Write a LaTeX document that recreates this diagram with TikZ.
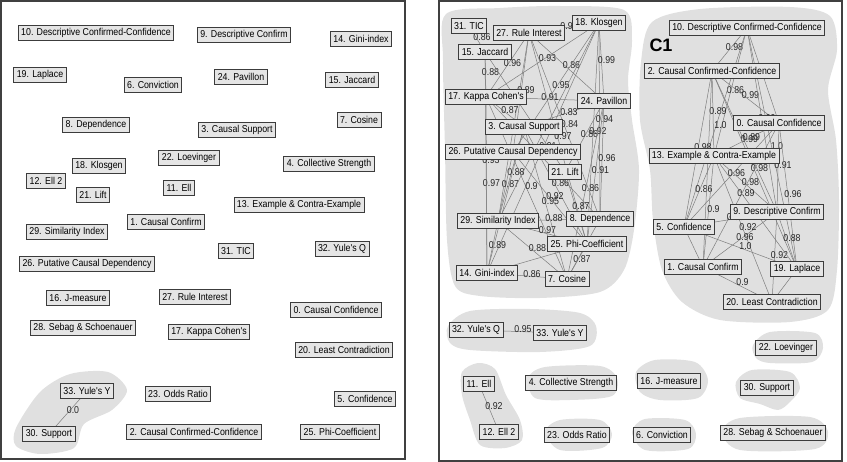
\documentclass[tikz,border=0pt]{standalone}
\usepackage{fontspec}
\setmainfont{Liberation Sans}
\newfontfamily\boxfont[FakeStretch=0.88]{Liberation Sans}
\usepackage{tikz}
\definecolor{box_grey}{RGB}{229,229,229}
\definecolor{blob_grey}{RGB}{224,224,224}
\definecolor{edge_grey}{RGB}{125,125,125}
\definecolor{line_grey}{RGB}{60,60,60}
\tikzstyle{mn}=[rectangle,fill=box_grey,draw=line_grey,line width=0.9pt,
  inner xsep=3pt,inner ysep=0pt,minimum height=15.5pt,font=\boxfont\fontsize{10}{10}\selectfont]
\tikzstyle{ed}=[draw=edge_grey,line width=0.5pt]
\tikzstyle{el}=[inner sep=0pt,xshift=5pt,yshift=2pt,text=black!85,
  font=\boxfont\fontsize{10}{10}\selectfont]
\tikzstyle{bl}=[fill=blob_grey]
\tikzstyle{frm}=[draw=black!75,line width=1.2pt]
\pgfdeclarelayer{blobs}
\pgfdeclarelayer{edges}
\pgfsetlayers{blobs,edges,main}

\begin{document}
\begin{tikzpicture}[x=1pt,y=-1pt]
    \useasboundingbox (0,0) rectangle (847,462);
    % frames of the two panels
    \draw [style=frm] (1,1) rectangle (405,459);
    \draw [style=frm] (439,1) rectangle (842,461);

    % left panel
    \node [style=mn] (l10) at (96,33) {10. Descriptive Confirmed-Confidence};
    \node [style=mn] (l9) at (244,35) {9. Descriptive Confirm};
    \node [style=mn] (l14) at (361,39) {14. Gini-index};
    \node [style=mn] (l19) at (40,75) {19. Laplace};
    \node [style=mn] (l6) at (153,85) {6. Conviction};
    \node [style=mn] (l24) at (241,77) {24. Pavillon};
    \node [style=mn] (l15) at (352,80) {15. Jaccard};
    \node [style=mn] (l8) at (96,125) {8. Dependence};
    \node [style=mn] (l3) at (237,130) {3. Causal Support};
    \node [style=mn] (l7) at (359,120) {7. Cosine};
    \node [style=mn] (l22) at (189,158) {22. Loevinger};
    \node [style=mn] (l18) at (99,166) {18. Klosgen};
    \node [style=mn] (l4) at (329,164) {4. Collective Strength};
    \node [style=mn] (l12) at (46,181) {12. Ell 2};
    \node [style=mn] (l21) at (93,195) {21. Lift};
    \node [style=mn] (l11) at (179,188) {11. Ell};
    \node [style=mn] (l13) at (299,205) {13. Example \& Contra-Example};
    \node [style=mn] (l1) at (166,222) {1. Causal Confirm};
    \node [style=mn] (l29) at (67,232) {29. Similarity Index};
    \node [style=mn] (l31) at (236,251) {31. TIC};
    \node [style=mn] (l32) at (342,249) {32. Yule's Q};
    \node [style=mn] (l26) at (87,264) {26. Putative Causal Dependency};
    \node [style=mn] (l16) at (78,298) {16. J-measure};
    \node [style=mn] (l27) at (195,297) {27. Rule Interest};
    \node [style=mn] (l0) at (336,310) {0. Causal Confidence};
    \node [style=mn] (l28) at (83,328) {28. Sebag \& Schoenauer};
    \node [style=mn] (l17) at (209,332) {17. Kappa Cohen's};
    \node [style=mn] (l20) at (344,350) {20. Least Contradiction};
    \node [style=mn] (l33) at (87,391) {33. Yule's Y};
    \node [style=mn] (l23) at (178,394) {23. Odds Ratio};
    \node [style=mn] (l5) at (365,399) {5. Confidence};
    \node [style=mn] (l30) at (49,434) {30. Support};
    \node [style=mn] (l2) at (194,432) {2. Causal Confirmed-Confidence};
    \node [style=mn] (l25) at (340,432) {25. Phi-Coefficient};

    % right panel, first cluster
    \node [style=mn] (r31) at (469,26) {31. TIC};
    \node [style=mn] (r27) at (529,33) {27. Rule Interest};
    \node [style=mn] (r18) at (599,23) {18. Klosgen};
    \node [style=mn] (r15) at (485,52) {15. Jaccard};
    \node [style=mn] (r17) at (486,97) {17. Kappa Cohen's};
    \node [style=mn] (r24) at (604,101) {24. Pavillon};
    \node [style=mn] (r3) at (524,127) {3. Causal Support};
    \node [style=mn] (r26) at (513,152) {26. Putative Causal Dependency};
    \node [style=mn] (r21) at (565,172) {21. Lift};
    \node [style=mn] (r29) at (498,221) {29. Similarity Index};
    \node [style=mn] (r8) at (600,219) {8. Dependence};
    \node [style=mn] (r25) at (587,244) {25. Phi-Coefficient};
    \node [style=mn] (r14) at (487,273) {14. Gini-index};
    \node [style=mn] (r7) at (567,279) {7. Cosine};

    % right panel, cluster C1
    \node [font=\bfseries\fontsize{18}{18}\selectfont] (c1) at (661,45) {C1};
    \node [style=mn] (r10) at (747,28) {10. Descriptive Confirmed-Confidence};
    \node [style=mn] (r2) at (712,71) {2. Causal Confirmed-Confidence};
    \node [style=mn] (r0) at (779,123) {0. Causal Confidence};
    \node [style=mn] (r13) at (714,156) {13. Example \& Contra-Example};
    \node [style=mn] (r9) at (777,212) {9. Descriptive Confirm};
    \node [style=mn] (r5) at (684,227) {5. Confidence};
    \node [style=mn] (r1) at (703,267) {1. Causal Confirm};
    \node [style=mn] (r19) at (797,269) {19. Laplace};
    \node [style=mn] (r20) at (772,302) {20. Least Contradiction};

    % right panel, small groups
    \node [style=mn] (r32) at (476,330) {32. Yule's Q};
    \node [style=mn] (r33) at (560,333) {33. Yule's Y};
    \node [style=mn] (r22) at (786,348) {22. Loevinger};
    \node [style=mn] (r11) at (479,384) {11. Ell};
    \node [style=mn] (r4) at (571,383) {4. Collective Strength};
    \node [style=mn] (r16) at (669,381) {16. J-measure};
    \node [style=mn] (r30) at (767,388) {30. Support};
    \node [style=mn] (r12) at (499,432) {12. Ell 2};
    \node [style=mn] (r23) at (577,435) {23. Odds Ratio};
    \node [style=mn] (r6) at (662,435) {6. Conviction};
    \node [style=mn] (r28) at (773,433) {28. Sebag \& Schoenauer};

    \begin{pgfonlayer}{blobs}
    \fill [style=bl] plot [smooth cycle] coordinates {(16,428) (40,392) (70,374)
      (108,372) (127,390) (112,410) (84,424) (74,448) (40,454) (16,446)};
    \fill [style=bl] plot [smooth cycle] coordinates {(446,14) (500,8) (560,6)
      (624,10) (632,40) (628,80) (632,120) (639,170) (634,230) (624,270)
      (600,292) (540,298) (480,296) (455,286) (447,240) (445,150) (443,60)};
    \fill [style=bl] plot [smooth cycle] coordinates {(652,22) (700,9) (790,7)
      (830,16) (837,50) (828,90) (836,140) (839,200) (837,270) (828,310)
      (790,322) (720,320) (682,302) (662,270) (653,220) (650,170) (640,120)
      (641,62)};
    \fill [style=bl] plot [smooth cycle] coordinates {(448,326) (470,311)
      (530,309) (580,313) (596,326) (590,346) (540,352) (470,350) (450,343)};
    \fill [style=bl] plot [smooth cycle] coordinates {(462,372) (478,363)
      (495,369) (506,395) (520,420) (522,440) (505,448) (480,445) (470,420)
      (462,395)};
    \fill [style=bl] plot [smooth cycle] coordinates {(528,378) (545,367)
      (600,366) (617,378) (612,396) (570,400) (535,398)};
    \fill [style=bl] plot [smooth cycle] coordinates {(636,372) (655,360)
      (695,362) (708,380) (698,398) (660,400) (640,392)};
    \fill [style=bl] plot [smooth cycle] coordinates {(753,345) (770,332)
      (815,333) (823,348) (812,362) (770,363) (756,358)};
    \fill [style=bl] plot [smooth cycle] coordinates {(736,382) (752,370)
      (790,372) (800,388) (790,402) (778,410) (760,404) (740,398)};
    \fill [style=bl] plot [smooth cycle] coordinates {(545,432) (560,420)
      (600,420) (612,434) (602,448) (560,450)};
    \fill [style=bl] plot [smooth cycle] coordinates {(632,432) (645,419)
      (685,420) (696,434) (688,449) (645,450)};
    \fill [style=bl] plot [smooth cycle] coordinates {(722,432) (740,418)
      (810,417) (828,432) (815,449) (740,450)};
    \end{pgfonlayer}

    \begin{pgfonlayer}{edges}
    \draw [style=ed] (l33.center) to node [style=el] {0.0} (l30.center);
    \draw [style=ed] (r32.center) to node [style=el] {0.95} (r33.center);
    \draw [style=ed] (r11.center) to node [style=el] {0.92} (r12.center);
    % first cluster
    \draw [style=ed] (r31.center) to node [style=el] {0.86} (r15.center);
    \draw [style=ed] (r27.center) to node [style=el] {0.99} (r18.center);
    \draw [style=ed] (r27.center) to node [style=el] {0.96} (r17.center);
    \draw [style=ed] (r18.center) to node [style=el] {0.93} (r17.center);
    \draw [style=ed] (r27.center) to node [style=el] {0.86} (r24.center);
    \draw [style=ed] (r18.center) to node [style=el] {0.99} (r24.center);
    \draw [style=ed] (r15.center) to node [style=el] {0.88} (r17.center);
    \draw [style=ed] (r18.center) to node [style=el] {0.95} (r26.center);
    \draw [style=ed] (r27.center) to node [style=el] {0.89} (r26.center);
    \draw [style=ed] (r17.center) to node [style=el] {0.91} (r24.center);
    \draw [style=ed] (r17.center) to node [style=el] {0.87} (r3.center);
    \draw [style=ed] (r24.center) to node [style=el] {0.83} (r3.center);
    \draw [style=ed] (r27.center) to node [style=el] {0.84} (r8.center);
    \draw [style=ed] (r18.center) to node [style=el] {0.94} (r8.center);
    \draw [style=ed] (r27.center) to node [style=el] {0.97} (r25.center);
    \draw [style=ed] (r24.center) to node [style=el] {0.86} (r21.center);
    \draw [style=ed] (r18.center) to node [style=el] {0.92} (r25.center);
    \draw [style=ed] (r18.center) to node [style=el] {0.91} (r14.center);
    \draw [style=ed] (r24.center) to node [style=el] {0.96} (r8.center);
    \draw [style=ed] (r24.center) to node [style=el] {0.91} (r25.center);
    \draw [style=ed] (r3.center) to node [style=el] {0.88} (r29.center);
    \draw [style=ed] (r17.center) to node [style=el] {0.98} (r8.center);
    \draw [style=ed] (r17.center) to node [style=el] {0.97} (r14.center);
    \draw [style=ed] (r26.center) to node [style=el] {0.87} (r29.center);
    \draw [style=ed] (r17.center) to node [style=el] {0.9} (r7.center);
    \draw [style=ed] (r3.center) to node [style=el] {0.86} (r25.center);
    \draw [style=ed] (r3.center) to node [style=el] {0.95} (r7.center);
    \draw [style=ed] (r26.center) to node [style=el] {0.92} (r25.center);
    \draw [style=ed] (r24.center) to node [style=el] {0.86} (r7.center);
    \draw [style=ed] (r21.center) to node [style=el] {0.87} (r25.center);
    \draw [style=ed] (r29.center) to node [style=el] {0.88} (r8.center);
    \draw [style=ed] (r29.center) to node [style=el] {0.97} (r25.center);
    \draw [style=ed] (r29.center) to node [style=el] {0.89} (r14.center);
    \draw [style=ed] (r29.center) to node [style=el] {0.88} (r7.center);
    \draw [style=ed] (r25.center) to node [style=el] {0.87} (r7.center);
    \draw [style=ed] (r14.center) to node [style=el] {0.86} (r7.center);
    \draw [style=ed] (r15.center) to node [style=el] {0.93} (r14.center);
    \draw [style=ed] (r8.center) to (r7.center);
    \draw [style=ed] (r14.center) to (r25.center);
    \draw [style=ed] (r18.center) to (r29.center);
    \draw [style=ed] (r27.center) to (r29.center);
    \draw [style=ed] (r15.center) to (r21.center);
    \draw [style=ed] (r3.center) to (r14.center);
    % cluster C1
    \draw [style=ed] (r10.center) to node [style=el] {0.98} (r2.center);
    \draw [style=ed] (r10.center) to node [style=el] {0.96} (r0.center);
    \draw [style=ed] (r10.center) to node [style=el] {0.86} (r13.center);
    \draw [style=ed] (r2.center) to node [style=el] {0.99} (r0.center);
    \draw [style=ed] (r2.center) to node [style=el] {0.89} (r13.center);
    \draw [style=ed] (r10.center) to node [style=el] {1.0} (r5.center);
    \draw [style=ed] (r10.center) to node [style=el] {0.99} (r9.center);
    \draw [style=ed] (r2.center) to node [style=el] {0.98} (r5.center);
    \draw [style=ed] (r2.center) to node [style=el] {0.99} (r9.center);
    \draw [style=ed] (r13.center) to node [style=el] {0.89} (r0.center);
    \draw [style=ed] (r10.center) to node [style=el] {1.0} (r19.center);
    \draw [style=ed] (r2.center) to node [style=el] {0.98} (r19.center);
    \draw [style=ed] (r0.center) to node [style=el] {0.91} (r9.center);
    \draw [style=ed] (r0.center) to node [style=el] {0.96} (r5.center);
    \draw [style=ed] (r13.center) to node [style=el] {0.98} (r9.center);
    \draw [style=ed] (r13.center) to node [style=el] {0.86} (r5.center);
    \draw [style=ed] (r0.center) to node [style=el] {0.89} (r1.center);
    \draw [style=ed] (r0.center) to node [style=el] {0.96} (r19.center);
    \draw [style=ed] (r13.center) to node [style=el] {0.9} (r1.center);
    \draw [style=ed] (r5.center) to node [style=el] {0.98} (r9.center);
    \draw [style=ed] (r9.center) to node [style=el] {0.96} (r1.center);
    \draw [style=ed] (r13.center) to node [style=el] {0.92} (r20.center);
    \draw [style=ed] (r5.center) to node [style=el] {1.0} (r19.center);
    \draw [style=ed] (r9.center) to node [style=el] {0.88} (r19.center);
    \draw [style=ed] (r9.center) to node [style=el] {0.92} (r20.center);
    \draw [style=ed] (r1.center) to node [style=el] {0.9} (r20.center);
    \draw [style=ed] (r13.center) to (r19.center);
    \draw [style=ed] (r5.center) to (r1.center);
    \draw [style=ed] (r19.center) to (r20.center);
    \draw [style=ed] (r2.center) to (r1.center);
    \end{pgfonlayer}
  \end{tikzpicture}
\end{document}
